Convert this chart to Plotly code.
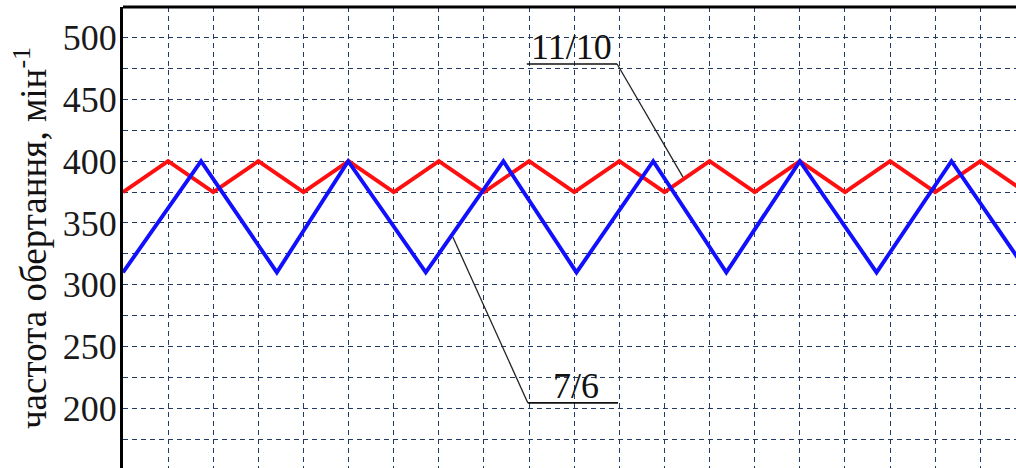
import plotly.graph_objects as go

# Time axis (grid steps) and rotational speed, rpm
red_t = [0, 1, 2, 3, 4, 5, 6, 7, 8, 9, 10, 11, 12, 13, 14, 15, 16, 17, 18, 19, 20]
red_n = [375, 400, 375, 400, 375, 400, 375, 400, 375, 400, 375,
         400, 375, 400, 375, 400, 375, 400, 375, 400, 375]

blue_t = [0, 1.73, 3.41, 4.99, 6.71, 8.43, 10.05, 11.75, 13.37, 15.0, 16.70, 18.36, 20.05]
blue_n = [310, 400, 310, 400, 310, 400, 310, 400, 310, 400, 310, 400, 310]

y_ticks = [200, 250, 300, 350, 400, 450, 500]
label_red = "11/10"
label_blue = "7/6"
y_title = "частота обертання, мін<sup>-1</sup>"

GRID = "#223a64"
SERIF = "Liberation Serif"

fig = go.Figure()
fig.add_trace(go.Scatter(x=red_t, y=red_n, mode="lines",
                         line=dict(color="#ff1010", width=3.9), showlegend=False))
fig.add_trace(go.Scatter(x=blue_t, y=blue_n, mode="lines",
                         line=dict(color="#1010ff", width=3.9), showlegend=False))

# callout lines: underline + leader to the curve
callouts = [
    ((8.95, 478.6), (10.95, 478.6), (12.41, 387.1)),
    ((10.97, 204.5), (8.97, 204.5), (7.31, 338.6)),
]
for a, b, c in callouts:
    fig.add_shape(type="line", x0=a[0], y0=a[1], x1=b[0], y1=b[1],
                  line=dict(color="#111111", width=1.6), layer="above")
    fig.add_shape(type="line", x0=b[0], y0=b[1], x1=c[0], y1=c[1],
                  line=dict(color="#222222", width=1.3), layer="above")

fig.add_annotation(x=9.94, y=492.0, text=label_red, showarrow=False,
                   font=dict(family=SERIF, size=36, color="#111111"),
                   xanchor="center", yanchor="middle")
fig.add_annotation(x=10.05, y=218.4, text=label_blue, showarrow=False,
                   font=dict(family=SERIF, size=36, color="#111111"),
                   xanchor="center", yanchor="middle")

# y-axis title
fig.add_annotation(xref="paper", yref="paper", x=-0.1036, y=0.5,
                   text=y_title, textangle=-90, showarrow=False,
                   font=dict(family=SERIF, size=37, color="#111111"),
                   xanchor="center", yanchor="middle")

# top frame line
fig.add_shape(type="line", xref="paper", yref="paper", x0=0, x1=1, y0=1, y1=1,
              line=dict(color="#000000", width=3))

fig.update_xaxes(range=[0, 19.79], dtick=1, tick0=0, showticklabels=False,
                 showgrid=True, gridcolor=GRID, gridwidth=1.3, griddash="5px,4px",
                 zeroline=False, showline=False, ticks="")
fig.update_yaxes(range=[151.8, 524.7], tickvals=y_ticks,
                 showgrid=True, gridcolor=GRID, gridwidth=1.3, griddash="5px,4px",
                 minor=dict(dtick=25, tick0=0, showgrid=True, gridcolor=GRID,
                            gridwidth=1.3, griddash="5px,4px"),
                 zeroline=False, showline=True, linecolor="#000000", linewidth=3,
                 ticks="", ticklabelstandoff=-4,
                 tickfont=dict(family=SERIF, size=36, color="#1a1a1a"))

fig.update_layout(width=1016, height=468,
                  margin=dict(l=123, r=0, t=7, b=0),
                  paper_bgcolor="white", plot_bgcolor="white")

fig.write_html("out.html")
